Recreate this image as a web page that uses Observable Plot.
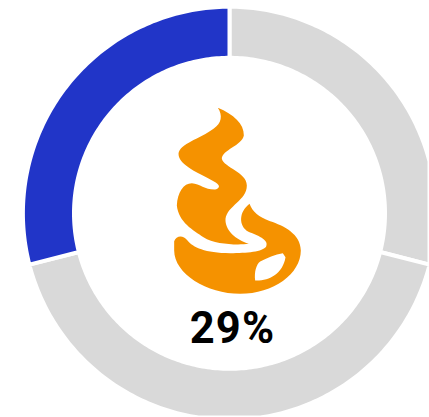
<!DOCTYPE html>
<html>
<head>
<meta charset="utf-8">
<script src="https://cdn.jsdelivr.net/npm/d3@7"></script>
<script src="https://cdn.jsdelivr.net/npm/@observablehq/plot@0.6"></script>
<style>
html,body{margin:0;padding:0;background:#fff;overflow:hidden}
svg{display:block}
g[aria-label="text"] text{letter-spacing:1.2px}
g[aria-label="dot"]{filter:blur(0.45px)}
</style>
</head>
<body>
<div id="chart"></div>
<script>
const categories = ["rest-a", "rest-b", "share"];
const shares = [29, 42, 29];
const colours = ["#d9d9d9", "#d9d9d9", "#2135c8"];
const label = "29%";

const W = 429, H = 417, CX = 229, CY = 212.8, R0 = 155.5, R1 = 206.6;

const total = d3.sum(shares);
const slices = [];
let run = 0;
categories.forEach((category, i) => {
  const a0 = run / total * 2 * Math.PI;
  run += shares[i];
  const a1 = run / total * 2 * Math.PI;
  const n = Math.max(2, Math.ceil((a1 - a0) * 60));
  const pts = d3.range(n + 1).map(k => a0 + (a1 - a0) * k / n);
  const at = (r, a) => [CX + r * Math.sin(a), CY - r * Math.cos(a)];
  const ring = [...pts.map(a => at(R1, a)), ...pts.reverse().map(a => at(R0, a))];
  ring.push(ring[0]);
  slices.push({type: "Feature", properties: {category}, geometry: {type: "Polygon", coordinates: [ring]}});
});

// Flame glyph, drawn as a custom dot symbol (units: 1/3 px around its centre)
const flame = {
  draw(c, size) {
    const k = Math.sqrt(size / Math.PI) / 60 / 3;
    const X = x => (x - 262) * k, Y = y => (y - 330) * k;
    const M = (x, y) => c.moveTo(X(x), Y(y));
    const B = (a, b, d, e, f, g) => c.bezierCurveTo(X(a), Y(b), X(d), Y(e), X(f), Y(g));
    // flame
    M(203, 52);
    B(250, 72, 282, 100, 281, 135);
    B(276, 165, 215, 178, 215, 205);
    B(222, 232, 290, 245, 290, 285);
    B(290, 330, 232, 345, 226, 385);
    B(224, 420, 258, 448, 296, 460);
    B(260, 464, 195, 462, 160, 440);
    B(130, 420, 85, 395, 80, 345);
    B(82, 305, 100, 278, 125, 278);
    B(150, 280, 165, 298, 195, 297);
    B(212, 292, 210, 282, 190, 272);
    B(150, 250, 85, 225, 85, 190);
    B(88, 160, 150, 145, 190, 115);
    B(215, 98, 218, 75, 203, 52);
    c.closePath();
    // bowl
    M(72, 452);
    B(78, 436, 98, 432, 112, 450);
    B(128, 470, 165, 488, 240, 488);
    B(290, 488, 338, 484, 348, 468);
    B(358, 448, 320, 434, 295, 424);
    B(265, 408, 265, 365, 298, 340);
    B(308, 365, 325, 380, 360, 392);
    B(400, 405, 452, 430, 452, 480);
    B(452, 550, 370, 610, 270, 610);
    B(170, 610, 72, 550, 72, 480);
    c.closePath();
    // highlight (reverse winding leaves a hole)
    M(330, 513);
    B(318, 522, 312, 545, 315, 570);
    B(355, 572, 398, 550, 406, 500);
    c.lineTo(X(398), Y(488));
    B(375, 492, 350, 502, 330, 513);
    c.closePath();
  }
};

const chart = Plot.plot({
  width: W,
  height: H,
  margin: 0,
  projection: () => d3.geoIdentity(),
  color: {domain: categories, range: colours},
  style: {background: "#fff"},
  marks: [
    Plot.geo(slices, {fill: d => d.properties.category, stroke: "#fff", strokeWidth: 4}),
    Plot.dot([0], {x: () => 237, y: () => 200, r: 60, symbol: flame, fill: "#f59200", stroke: "none"}),
    Plot.text([label], {
      x: () => 232,
      y: () => 329,
      text: d => d,
      fontFamily: "Roboto",
      fontWeight: 700,
      fontSize: 43.5,
      fill: "#000",
      textAnchor: "middle",
      lineAnchor: "middle"
    })
  ]
});
document.getElementById("chart").append(chart);
</script>
</body>
</html>
